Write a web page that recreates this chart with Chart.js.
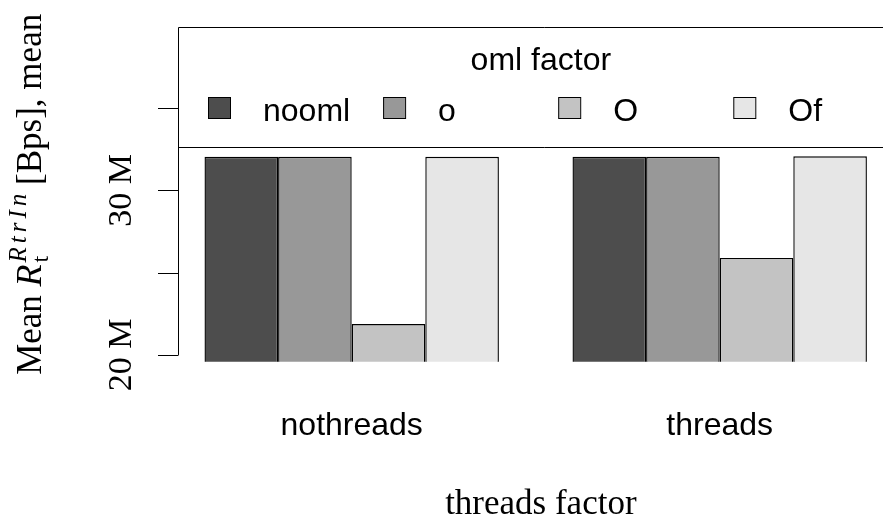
<!DOCTYPE html>
<html lang="en">
<head>
    <meta charset="UTF-8">
    <title>Mean rate by threads factor</title>
    <style>
        * { margin: 0; padding: 0; box-sizing: border-box; }
        html, body { width: 883px; height: 516px; overflow: hidden; background: #fff; }
        canvas { display: block; }
    </style>
</head>
<body>
    <canvas id="barChart" width="910" height="516"></canvas>

    <script src="https://cdn.jsdelivr.net/npm/chart.js"></script>
    <script>
        // Data
        const categories = ["nothreads", "threads"];
        const seriesNames = ["nooml", "o", "O", "Of"];
        const seriesColors = ["#4d4d4d", "#989898", "#c3c3c3", "#e6e6e6"];
        const noomlValues = [32.05e6, 32.05e6];
        const oValues = [32.05e6, 32.05e6];
        const OValues = [21.88e6, 25.90e6];
        const OfValues = [32.05e6, 32.08e6];
        const yTicks = [20e6, 25e6, 30e6, 35e6];
        const yTickLabels = ["20 M", "", "30 M", ""];
        const legendTitle = "oml factor";
        const xTitle = "threads factor";

        const SANS = "'Liberation Sans', Arial, sans-serif";
        const SERIF = "'Liberation Serif', 'Times New Roman', serif";

        // R-style axes, labels and legend drawn on top of the bars
        const rDecor = {
            id: "rDecor",
            afterDraw(chart) {
                const ctx = chart.ctx;
                const x = chart.scales.x;
                const y = chart.scales.y;
                const axisX = 178;
                const plotMid = (axisX + chart.chartArea.right) / 2;

                ctx.save();
                ctx.strokeStyle = "#000";
                ctx.fillStyle = "#000";
                ctx.lineWidth = 1;

                // y axis line and ticks
                const yTop = y.getPixelForValue(yTicks[yTicks.length - 1]);
                const yBot = y.getPixelForValue(yTicks[0]);
                ctx.beginPath();
                ctx.moveTo(axisX + 0.5, yTop);
                ctx.lineTo(axisX + 0.5, yBot);
                yTicks.forEach(v => {
                    const py = Math.round(y.getPixelForValue(v)) + 0.5;
                    ctx.moveTo(axisX + 0.5, py);
                    ctx.lineTo(axisX - 20, py);
                });
                ctx.stroke();

                // y tick labels (rotated)
                ctx.font = "34px " + SERIF;
                ctx.textAlign = "center";
                ctx.textBaseline = "alphabetic";
                yTicks.forEach((v, i) => {
                    if (!yTickLabels[i]) return;
                    ctx.save();
                    ctx.translate(131, y.getPixelForValue(v));
                    ctx.rotate(-Math.PI / 2);
                    ctx.fillText(yTickLabels[i], 0, 0);
                    ctx.restore();
                });

                // y axis title: Mean R_t^{RtrIn} [Bps], mean
                const mainFont = "35px " + SERIF;
                const italFont = "italic 36px " + SERIF;
                const smallFont = "24px " + SERIF;
                const smallItal = "italic 25px " + SERIF;
                const supChars = ["R", "t", "r", "I", "n"];
                const supGap = 4;
                ctx.font = mainFont;
                const wMean = ctx.measureText("Mean ").width;
                const wTail = ctx.measureText(" [Bps], mean").width;
                ctx.font = italFont;
                const wR = ctx.measureText("R").width + 2;
                ctx.font = smallItal;
                let wSup = 0;
                supChars.forEach((c, i) => { wSup += ctx.measureText(c).width + (i < supChars.length - 1 ? supGap : 0); });
                ctx.font = smallFont;
                const wSub = ctx.measureText("t").width;
                const total = wMean + wR + Math.max(wSup, wSub) + wTail;
                const midY = (chart.chartArea.top + chart.chartArea.bottom) / 2;

                ctx.save();
                ctx.translate(41, midY);
                ctx.rotate(-Math.PI / 2);
                ctx.textAlign = "left";
                let cx = -total / 2;
                ctx.font = mainFont;
                ctx.fillText("Mean ", cx, 0);
                cx += wMean;
                ctx.font = italFont;
                ctx.fillText("R", cx, 0);
                cx += wR;
                ctx.font = smallFont;
                ctx.fillText("t", cx, 7);
                ctx.font = smallItal;
                let sx = cx;
                supChars.forEach(c => {
                    ctx.fillText(c, sx, -15);
                    sx += ctx.measureText(c).width + supGap;
                });
                cx += Math.max(wSup, wSub);
                ctx.font = mainFont;
                ctx.fillText(" [Bps], mean", cx, 0);
                ctx.restore();

                // category labels
                ctx.font = "32px " + SANS;
                ctx.textAlign = "center";
                categories.forEach((c, i) => {
                    ctx.fillText(c, x.getPixelForValue(i), 435);
                });

                // x axis title
                ctx.font = "35px " + SERIF;
                ctx.fillText(xTitle, plotMid, 514);

                // legend box at the top of the plot region
                const boxTop = chart.chartArea.top;
                const boxBottom = 147;
                ctx.fillStyle = "#fff";
                ctx.fillRect(axisX, boxTop, chart.width, boxBottom - boxTop);
                ctx.beginPath();
                ctx.rect(axisX + 0.5, boxTop + 0.5, chart.width, boxBottom - boxTop);
                ctx.stroke();

                ctx.fillStyle = "#000";
                ctx.font = "32px " + SANS;
                ctx.textAlign = "center";
                ctx.fillText(legendTitle, plotMid, 70);

                ctx.textAlign = "left";
                chart.data.datasets.forEach((ds, i) => {
                    const lx = 208 + i * 175.1;
                    ctx.fillStyle = ds.backgroundColor;
                    ctx.fillRect(lx, 97.5, 22, 21);
                    ctx.strokeStyle = "#000";
                    ctx.strokeRect(lx + 0.5, 97.5, 22, 21);
                    ctx.fillStyle = "#000";
                    ctx.fillText(ds.label, lx + 55, 121);
                });

                ctx.restore();
            }
        };

        const seriesValues = [noomlValues, oValues, OValues, OfValues];

        const barChart = new Chart(document.getElementById("barChart"), {
            type: "bar",
            data: {
                labels: categories,
                datasets: seriesNames.map((name, i) => ({
                    label: name,
                    data: seriesValues[i],
                    backgroundColor: seriesColors[i],
                    borderColor: "#000",
                    borderWidth: 1.4,
                    categoryPercentage: 0.8,
                    barPercentage: 1.0
                }))
            },
            options: {
                responsive: false,
                animation: false,
                devicePixelRatio: 1,
                layout: {
                    padding: { left: 167.7, right: 6.3, top: 27, bottom: 154.3 }
                },
                plugins: {
                    legend: { display: false },
                    tooltip: { enabled: false },
                    title: { display: false }
                },
                scales: {
                    x: { display: false },
                    y: { display: false, min: 19.59e6, max: 39.94e6 }
                }
            },
            plugins: [rDecor]
        });
    </script>
</body>
</html>
